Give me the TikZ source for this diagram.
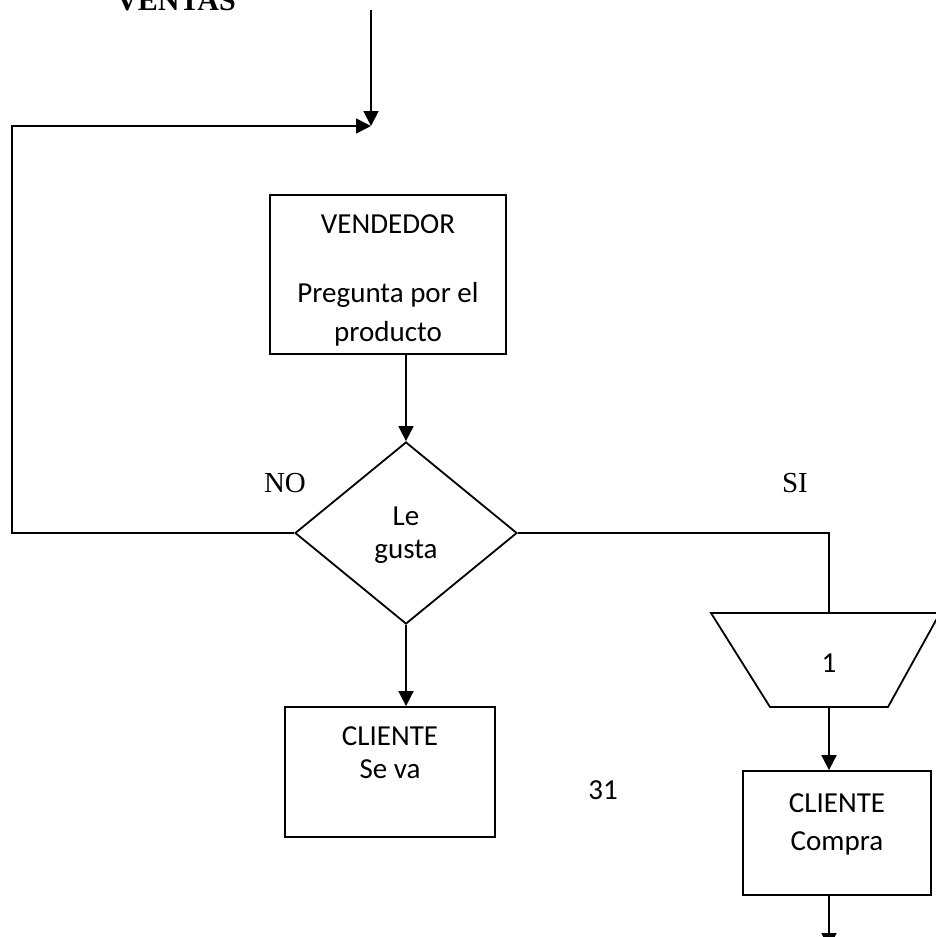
\documentclass[tikz,border=0pt]{standalone}
\usepackage{fontspec}
\setmainfont{Carlito}
\newfontfamily\timesf{Liberation Serif}
\usetikzlibrary{shapes.geometric,arrows.meta}
\begin{document}
\begin{tikzpicture}[x=1pt,y=-1pt, line width=1.8pt,
  box/.style={draw, rectangle, inner sep=0pt},
  txt/.style={anchor=base, inner sep=0pt, font=\fontsize{29}{35}\selectfont},
  lbl/.style={anchor=base, inner sep=0pt, font=\timesf\fontsize{29}{35}\selectfont},
  arr/.style={-{Triangle[length=15pt,width=15pt]}}]
\useasboundingbox (0,0) rectangle (936,937);
\clip (0,0) rectangle (936,937);

% title
\node[anchor=base, inner sep=0pt, font=\timesf\bfseries\fontsize{30}{36}\selectfont] (title) at (176,10) {VENTAS};

% shapes
\node[box, minimum width=236pt, minimum height=159pt] (vend) at (388,274.5) {};
\node[txt] (v1) at (388,233) {VENDEDOR};
\node[txt] (v2) at (388,302) {Pregunta por el};
\node[txt] (v3) at (388,341) {producto};

\node[draw, diamond, minimum width=222pt, minimum height=182pt, inner sep=0pt] (dia) at (406,533) {};
\node[txt] (d1) at (406,525) {Le};
\node[txt] (d2) at (406,558) {gusta};

\node[box, minimum width=210pt, minimum height=130pt] (seva) at (390,772) {};
\node[txt] (s1) at (390,745) {CLIENTE};
\node[txt] (s2) at (390,778) {Se va};

\draw (711,613) -- (940,613) -- (888,707) -- (770,707) -- cycle;
\coordinate (trtop) at (829,613);
\coordinate (trbot) at (829,707);
\node[txt] (one) at (829,672) {1};

\node[box, minimum width=188pt, minimum height=124pt] (compra) at (837,833) {};
\node[txt] (c1) at (837,812) {CLIENTE};
\node[txt] (c2) at (837,850) {Compra};

\node[txt] (pg) at (603,799) {31};
\node[lbl] (no) at (285,492) {NO};
\node[lbl] (si) at (795,492) {SI};

% connectors
\coordinate (start) at (371,10);
\coordinate (merge) at (371,126);
\coordinate (cu) at (12,126);
\coordinate (endp) at (829,948);
\draw[arr] (start) -- (merge);
\draw[arr] (dia.west) -| (cu) -- (merge);
\draw[arr] (vend.south -| dia.north) -- (dia.north);
\draw[arr] (dia.south) -- (dia.south |- seva.north);
\draw (dia.east) -| (trtop);
\draw[arr] (trbot) -- (trbot |- compra.north);
\draw[arr] (compra.south -| trbot) -- (endp);
\end{tikzpicture}
\end{document}
